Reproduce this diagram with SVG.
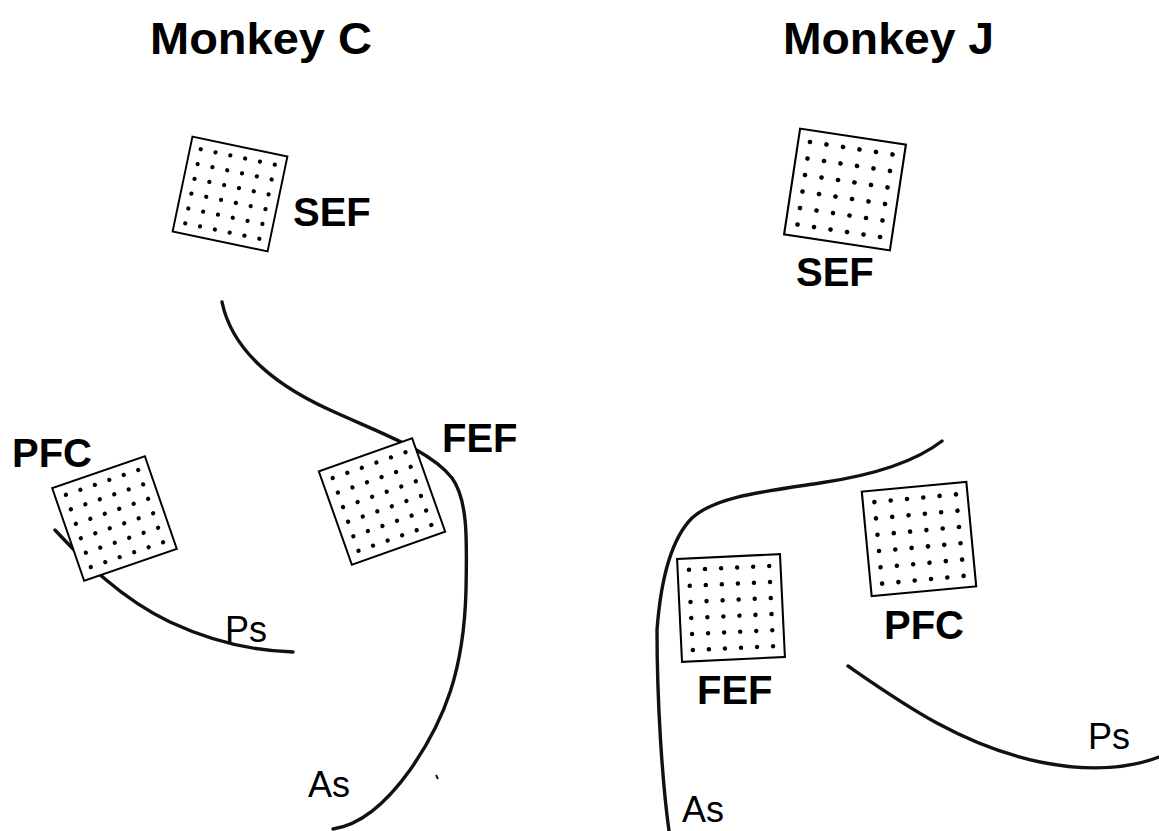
<svg xmlns="http://www.w3.org/2000/svg" xmlns:xlink="http://www.w3.org/1999/xlink" width="1159" height="831" viewBox="0 0 1159 831">
  <style>
    .title { font-family: "Liberation Sans", Arial, sans-serif; font-weight: bold; font-size: 44px; fill: #000; }
    .area { font-family: "Liberation Sans", Arial, sans-serif; font-weight: bold; font-size: 40px; fill: #000; }
    .sulcus-label { font-family: "Liberation Sans", Arial, sans-serif; font-size: 36px; fill: #000; }
    .sulcus { fill: none; stroke: #111; stroke-width: 3.4; stroke-linecap: round; }
    .frame { fill: #fff; stroke: #000; stroke-width: 2; }
    .pin { fill: #000; }
  </style>
  <defs>
    <!-- 6x6 electrode array, 100 units across, centred on the origin -->
    <g id="array">
      <rect class="frame" x="-50" y="-50" width="100" height="100"/>
      <g class="pin">
        <circle cx="-39" cy="-39" r="2.2"/><circle cx="-23.4" cy="-39" r="2.2"/><circle cx="-7.8" cy="-39" r="2.2"/><circle cx="7.8" cy="-39" r="2.2"/><circle cx="23.4" cy="-39" r="2.2"/><circle cx="39" cy="-39" r="2.2"/>
        <circle cx="-39" cy="-23.4" r="2.2"/><circle cx="-23.4" cy="-23.4" r="2.2"/><circle cx="-7.8" cy="-23.4" r="2.2"/><circle cx="7.8" cy="-23.4" r="2.2"/><circle cx="23.4" cy="-23.4" r="2.2"/><circle cx="39" cy="-23.4" r="2.2"/>
        <circle cx="-39" cy="-7.8" r="2.2"/><circle cx="-23.4" cy="-7.8" r="2.2"/><circle cx="-7.8" cy="-7.8" r="2.2"/><circle cx="7.8" cy="-7.8" r="2.2"/><circle cx="23.4" cy="-7.8" r="2.2"/><circle cx="39" cy="-7.8" r="2.2"/>
        <circle cx="-39" cy="7.8" r="2.2"/><circle cx="-23.4" cy="7.8" r="2.2"/><circle cx="-7.8" cy="7.8" r="2.2"/><circle cx="7.8" cy="7.8" r="2.2"/><circle cx="23.4" cy="7.8" r="2.2"/><circle cx="39" cy="7.8" r="2.2"/>
        <circle cx="-39" cy="23.4" r="2.2"/><circle cx="-23.4" cy="23.4" r="2.2"/><circle cx="-7.8" cy="23.4" r="2.2"/><circle cx="7.8" cy="23.4" r="2.2"/><circle cx="23.4" cy="23.4" r="2.2"/><circle cx="39" cy="23.4" r="2.2"/>
        <circle cx="-39" cy="39" r="2.2"/><circle cx="-23.4" cy="39" r="2.2"/><circle cx="-7.8" cy="39" r="2.2"/><circle cx="7.8" cy="39" r="2.2"/><circle cx="23.4" cy="39" r="2.2"/><circle cx="39" cy="39" r="2.2"/>
      </g>
    </g>
  </defs>

  <rect width="1159" height="831" fill="#fff"/>

  <!-- titles -->
  <text class="title" x="150" y="54" textLength="222" lengthAdjust="spacingAndGlyphs">Monkey C</text>
  <text class="title" x="783" y="54" textLength="211" lengthAdjust="spacingAndGlyphs">Monkey J</text>

  <!-- sulci -->
  <g id="sulci">
    <path class="sulcus" d="M222,302 C232,350 275,385 330,410 C380,433 430,450 452,478 C468,500 467,540 466,590 C464,670 445,720 410,770 C385,805 360,825 333,829"/>
    <path class="sulcus" d="M55,530 C85,562 120,598 170,622 C215,643 255,651 293,652"/>
    <path d="M436,775 L438,779" fill="none" stroke="#111" stroke-width="2"/>
    <path class="sulcus" d="M942,441 C915,462 875,475 820,483 C760,492 715,497 692,518 C668,542 660,590 657,630 C657,700 662,780 669,831"/>
    <path class="sulcus" d="M848,666 C900,702 960,745 1040,762 C1090,772 1130,768 1159,757"/>
  </g>

  <!-- Monkey C arrays -->
  <g id="c-sef">
    <use xlink:href="#array" href="#array" transform="translate(230,194) rotate(11.8) scale(0.97)"/>
    <text class="area" x="293" y="226">SEF</text>
  </g>
  <g id="c-pfc">
    <use xlink:href="#array" href="#array" transform="translate(114.5,518.5) rotate(-19) scale(0.98)"/>
    <text class="area" x="12" y="467">PFC</text>
  </g>
  <g id="c-fef">
    <use xlink:href="#array" href="#array" transform="translate(382,501.5) rotate(-19.5) scale(0.99)"/>
    <text class="area" x="442" y="452">FEF</text>
  </g>

  <!-- Monkey J arrays -->
  <g id="j-sef">
    <use xlink:href="#array" href="#array" transform="translate(845,189.5) rotate(8.6) scale(1.07)"/>
    <text class="area" x="796" y="286">SEF</text>
  </g>
  <g id="j-fef">
    <use xlink:href="#array" href="#array" transform="translate(731,608) rotate(-2.75) scale(1.03)"/>
    <text class="area" x="697" y="704">FEF</text>
  </g>
  <g id="j-pfc">
    <use xlink:href="#array" href="#array" transform="translate(919,539) rotate(-5.4) scale(1.05)"/>
    <text class="area" x="884" y="639">PFC</text>
  </g>

  <!-- sulcus labels -->
  <text class="sulcus-label" x="225" y="642">Ps</text>
  <text class="sulcus-label" x="308" y="797">As</text>
  <text class="sulcus-label" x="1088" y="749">Ps</text>
  <text class="sulcus-label" x="682" y="822">As</text>
</svg>
